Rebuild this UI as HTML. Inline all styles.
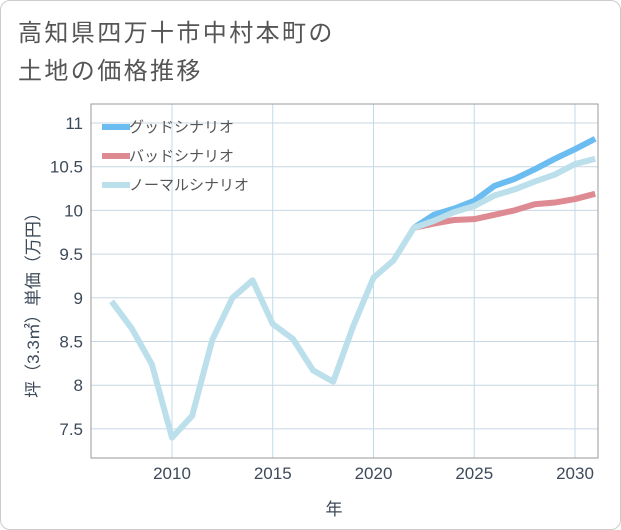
<!DOCTYPE html>
<html><head><meta charset="utf-8"><style>
body{margin:0;background:#fff;}
#wrap{position:relative;width:619px;height:528px;border:1px solid #ccc;border-radius:10px;background:#fff;font-family:"Liberation Sans","Noto Sans CJK JP",sans-serif;overflow:hidden}
#title{position:absolute;left:17px;top:14px;font-size:24px;letter-spacing:2.4px;line-height:38px;color:#555;}
svg{position:absolute;left:0;top:0}
</style></head><body>
<div id="wrap">
<div id="title">高知県四万十市中村本町の<br>土地の価格推移</div>
<svg id="chart" width="621" height="530"></svg>
</div>
<script>
const years=[2007,2008,2009,2010,2011,2012,2013,2014,2015,2016,2017,2018,2019,2020,2021,2022,2023,2024,2025,2026,2027,2028,2029,2030,2031];
const normal=[8.96,8.65,8.24,7.4,7.65,8.52,9.0,9.2,8.7,8.53,8.17,8.04,8.68,9.23,9.43,9.8,9.88,9.98,10.05,10.17,10.24,10.33,10.41,10.53,10.59];
const goodYears=[2022,2023,2024,2025,2026,2027,2028,2029,2030,2031];
const good=[9.8,9.95,10.02,10.11,10.28,10.36,10.47,10.59,10.7,10.82];
const bad=[9.8,9.85,9.89,9.9,9.95,10.0,10.07,10.09,10.13,10.19];
const yTicks=[7.5,8,8.5,9,9.5,10,10.5,11];
const yTickLabels=["7.5","8","8.5","9","9.5","10","10.5","11"];
const xTicks=[2010,2015,2020,2025,2030];
const seriesNames=["グッドシナリオ","バッドシナリオ","ノーマルシナリオ"];
const seriesColors=["#6bbcf0","#de8a92","#bcdfec"];
const L=90,R=597,T=103,B=457;
const x=v=>171+(v-2010)*20.15;
const y=v=>122+(11-v)*87.4;
const svg=document.getElementById('chart');
const NS='http://www.w3.org/2000/svg';
function mk(t,a){const e=document.createElementNS(NS,t);for(const k in a)e.setAttribute(k,a[k]);svg.appendChild(e);return e;}
yTicks.forEach((v,i)=>{
 const g=mk('line',{x1:L,x2:R,y1:y(v),y2:y(v),stroke:'#c8d8e4','stroke-width':1});
 
 
 const t=mk('text',{x:82,y:y(v)+6,'text-anchor':'end','font-size':17,fill:'#3d4a5a'});
 t.textContent=yTickLabels[i];
 
 
});
xTicks.forEach(v=>{
 const g=mk('line',{x1:x(v),x2:x(v),y1:T,y2:B,stroke:'#c0dcea','stroke-width':1});
 
 
 const t=mk('text',{x:x(v),y:478,'text-anchor':'middle','font-size':17,fill:'#3d4a5a'});
 t.textContent=v;
 
 
});
const fr=mk('rect',{x:L,y:T,width:R-L,height:B-T,fill:'none',stroke:'#999','stroke-width':1});


function line(xs,vs,c,name){
 const p=mk('polyline',{points:xs.map((yr,i)=>x(yr)+','+y(vs[i])).join(' '),fill:'none',stroke:c,'stroke-width':6,'stroke-linejoin':'round'});
 
 
}
const clip=mk('clipPath',{id:'cp'});
const cr=document.createElementNS(NS,'rect');cr.setAttribute('x',L);cr.setAttribute('y',T);cr.setAttribute('width',R-L);cr.setAttribute('height',B-T);clip.appendChild(cr);
line(goodYears,bad,seriesColors[1],'bad-scenario-line');
line(goodYears,good,seriesColors[0],'good-scenario-line');
line(years,normal,seriesColors[2],'normal-scenario-line');
document.querySelectorAll('polyline').forEach(p=>p.setAttribute('clip-path','url(#cp)'));
seriesNames.forEach((n,i)=>{
 const yy=126+i*29;
 const l=mk('line',{x1:101,x2:129,y1:yy,y2:yy,stroke:seriesColors[i],'stroke-width':6});
 
 
 const t=mk('text',{x:128,y:yy+5,'font-size':15,fill:'#555'});
 t.textContent=n;
 
 
});
const xt=mk('text',{x:333,y:514,'text-anchor':'middle','font-size':17,fill:'#3d4a5a'});
xt.textContent='年';


const yt=mk('text',{x:0,y:0,'text-anchor':'middle','font-size':17,fill:'#3d4a5a',transform:'translate(38,300) rotate(-90)'});
yt.textContent='坪（3.3㎡）単価（万円）';


</script>
</body></html>
